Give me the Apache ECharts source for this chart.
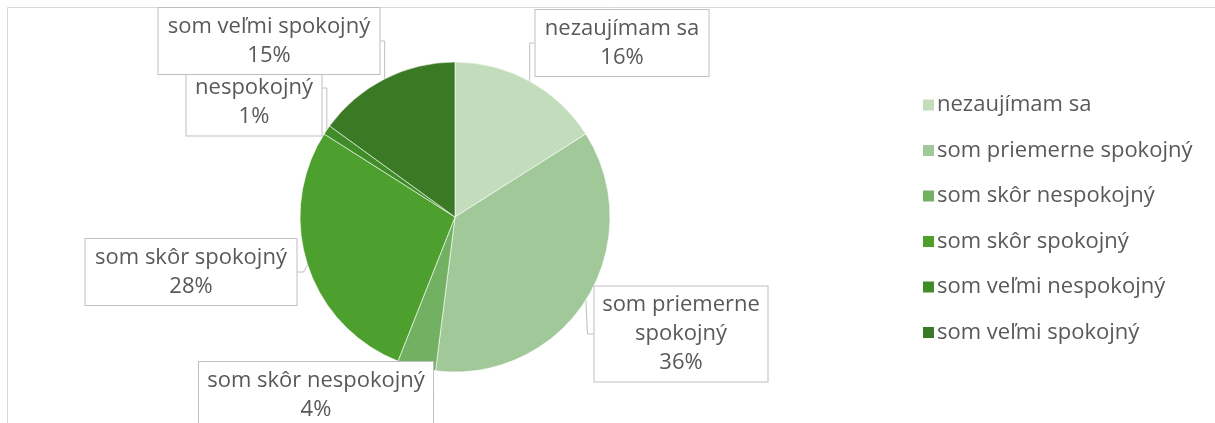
<!DOCTYPE html>
<html>
<head>
<meta charset="utf-8">
<script src="https://cdn.jsdelivr.net/npm/echarts@6/dist/echarts.min.js"></script>
<style>
  html, body { margin: 0; padding: 0; background: #fff; }
  #main { width: 1215px; height: 423px; }
</style>
</head>
<body>
<div id="main"></div>
<script>
// data
var categories = [
  "nezaujímam sa",
  "som priemerne spokojný",
  "som skôr nespokojný",
  "som skôr spokojný",
  "som veľmi nespokojný",
  "som veľmi spokojný"
];
var shares = [16, 36, 4, 28, 1, 15];
// callout text as wrapped in the picture
var calloutNames = [
  "nezaujímam sa",
  "som priemerne\nspokojný",
  "som skôr nespokojný",
  "som skôr spokojný",
  "som veľmi\nnespokojný",
  "som veľmi spokojný"
];

// look
var sliceColors = ["#c3dcbc", "#a0c898", "#72b062", "#4ea02e", "#3f8c28", "#3a7a24"];
// callout box widths and centres, one per slice
var boxWidths = [175, 175, 236, 213, 137, 223];
var boxCentres = [[622, 43], [681, 334], [316, 395], [191, 272], [254, 88], [269, 41]];

var chartDom = document.getElementById("main");
var myChart = echarts.init(chartDom);

var pieData = categories.map(function (name, i) {
  return {
    name: name,
    value: shares[i],
    itemStyle: { color: sliceColors[i] },
    label: { width: boxWidths[i] - 10 }
  };
});

var option = {
  animation: false,
  textStyle: { fontFamily: "'Open Sans', sans-serif" },
  graphic: [
    {
      type: "rect",
      silent: true,
      shape: { x: 7.5, y: 7.5, width: 1230, height: 440 },
      style: { fill: "none", stroke: "#d9d9d9", lineWidth: 1 }
    }
  ],
  legend: {
    orient: "vertical",
    left: 916,
    top: 89,
    icon: "rect",
    itemWidth: 13,
    itemHeight: 13,
    itemGap: 23.5,
    textStyle: { color: "#595959", fontSize: 22, lineHeight: 22, padding: [0, 0, 0, -3] },
    data: categories
  },
  series: [
    {
      type: "pie",
      center: [455, 217],
      radius: 155,
      startAngle: 90,
      clockwise: true,
      avoidLabelOverlap: false,
      itemStyle: { borderColor: "#ffffff", borderWidth: 0.6 },
      label: {
        show: true,
        position: "outside",
        formatter: function (p) {
          return calloutNames[p.dataIndex] + "\n" + p.value + "%";
        },
        color: "#595959",
        fontSize: 22,
        lineHeight: 29,
        align: "center",
        overflow: "none",
        backgroundColor: "#ffffff",
        borderColor: "#bfbfbf",
        borderWidth: 1,
        padding: [4, 4]
      },
      labelLine: {
        show: true,
        length: 6,
        length2: 6,
        lineStyle: { color: "#bfbfbf", width: 1 }
      },
      labelLayout: function (params) {
        var c = boxCentres[params.dataIndex];
        return { x: c[0], y: c[1], align: "center", verticalAlign: "middle" };
      },
      data: pieData
    }
  ]
};

option && myChart.setOption(option);
</script>
</body>
</html>
